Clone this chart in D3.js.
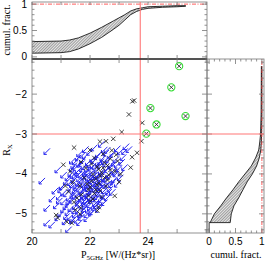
<!DOCTYPE html>
<html>
<head>
<meta charset="utf-8">
<script src="https://cdn.jsdelivr.net/npm/d3@7/dist/d3.min.js"></script>
<style>
  html, body { margin: 0; padding: 0; background: #fff; }
  svg { display: block; }
  .tick-lbl { font-family: "Liberation Sans", Arial, sans-serif; font-size: 10px; fill: #000; }
  .title { font-family: "Liberation Serif", "Times New Roman", serif; font-size: 10px; fill: #000; }
</style>
</head>
<body>
<svg id="chart" width="266" height="263"></svg>
<script>
// upper limits (blue arrows): [P5GHz, R_X]
const limits = [
  [22.50,-3.18],[23.35,-3.24],[23.45,-3.31],
  [21.95,-3.31],[22.25,-3.27],[22.70,-3.33],[23.05,-3.29],[23.30,-3.36],
  [21.75,-3.42],[22.10,-3.38],[22.40,-3.44],[22.65,-3.40],[22.90,-3.43],[23.15,-3.37],
  [21.70,-3.52],[21.95,-3.48],[22.20,-3.55],[22.35,-3.49],[22.55,-3.53],[22.80,-3.47],[23.00,-3.56],[23.25,-3.51],
  [21.60,-3.62],[21.85,-3.58],[22.05,-3.64],[22.25,-3.59],[22.40,-3.66],[22.60,-3.61],[22.75,-3.57],[22.95,-3.65],[23.20,-3.63],
  [21.55,-3.72],[21.75,-3.68],[21.90,-3.74],[22.10,-3.69],[22.30,-3.75],[22.45,-3.71],[22.65,-3.67],[22.85,-3.73],[23.05,-3.70],[23.30,-3.76],
  [21.00,-3.82],[21.50,-3.79],[21.70,-3.84],[21.85,-3.80],[22.00,-3.86],[22.15,-3.78],[22.35,-3.83],[22.50,-3.87],[22.70,-3.81],[22.90,-3.85],[23.10,-3.79],
  [21.45,-3.92],[21.65,-3.88],[21.80,-3.95],[21.95,-3.90],[22.10,-3.93],[22.20,-3.89],[22.40,-3.96],[22.55,-3.91],[22.75,-3.94],[23.00,-3.92],
  [21.35,-4.02],[21.60,-3.98],[21.75,-4.05],[21.90,-4.00],[22.05,-4.03],[22.20,-3.99],[22.30,-4.06],[22.45,-4.01],[22.60,-4.04],[22.80,-3.98],[22.95,-4.07],[23.15,-4.02],
  [20.45,-4.10],[21.30,-4.12],[21.55,-4.08],[21.70,-4.15],[21.85,-4.10],[22.00,-4.13],[22.15,-4.09],[22.25,-4.16],[22.40,-4.11],[22.55,-4.14],[22.70,-4.08],[22.90,-4.12],
  [21.15,-4.24],[21.50,-4.19],[21.65,-4.22],[21.80,-4.18],[21.95,-4.25],[22.10,-4.20],[22.20,-4.23],[22.35,-4.17],[22.50,-4.26],[22.65,-4.21],[22.85,-4.19],
  [21.10,-4.32],[21.45,-4.28],[21.60,-4.35],[21.75,-4.30],[21.90,-4.33],[22.05,-4.29],[22.15,-4.36],[22.30,-4.31],[22.45,-4.27],[22.60,-4.34],[22.80,-4.30],
  [21.30,-4.42],[21.55,-4.38],[21.70,-4.45],[21.85,-4.40],[22.00,-4.43],[22.10,-4.39],[22.25,-4.46],[22.40,-4.41],[22.55,-4.44],[22.75,-4.38],
  [21.05,-4.50],[21.40,-4.53],[21.60,-4.48],[21.80,-4.55],[21.95,-4.51],[22.05,-4.47],[22.20,-4.54],[22.35,-4.49],[22.50,-4.56],[22.70,-4.52],
  [21.20,-4.62],[21.50,-4.58],[21.70,-4.65],[21.90,-4.60],[22.00,-4.63],[22.15,-4.59],[22.30,-4.66],[22.45,-4.61],[22.60,-4.64],
  [20.95,-4.72],[21.35,-4.68],[21.60,-4.74],[21.80,-4.70],[21.95,-4.73],[22.10,-4.69],[22.25,-4.76],[22.45,-4.71],
  [20.62,-4.78],[21.20,-4.82],[21.45,-4.79],[21.70,-4.85],[21.90,-4.80],[22.05,-4.83],[22.20,-4.87],[22.40,-4.81],
  [21.10,-4.92],[21.35,-4.89],[21.60,-4.95],[21.85,-4.91],[22.00,-4.94],[22.15,-4.90],
  [21.00,-5.02],[21.30,-4.99],[21.55,-5.05],[21.80,-5.01],[22.00,-5.04],
  [21.25,-5.12],[21.50,-5.09],[21.75,-5.14],
  [20.62,-5.15],[20.79,-5.20],[21.37,-5.32],
  [20.62,-3.36],[21.14,-4.25],[21.20,-4.40],
  [21.98,-3.96],[22.12,-4.06],[22.28,-3.94],[22.18,-4.30],[21.92,-4.18],[22.38,-4.22],[22.02,-3.80],[22.22,-3.72],[21.88,-4.48],
  [21.62,-3.76],[21.82,-3.66],[22.48,-3.62],[22.62,-3.85],[22.82,-3.70],[21.52,-3.96],[21.72,-3.93],[22.32,-3.99],
  [22.52,-4.12],[22.72,-4.18],[21.42,-4.14],[21.62,-4.26],[21.82,-4.36],[22.02,-4.22],[22.42,-4.32],[21.52,-4.46],
  [21.72,-4.58],[21.92,-4.66],[22.12,-4.52],[22.32,-4.55],[21.38,-4.62],[21.58,-4.84],[21.78,-4.94],[22.12,-4.78],
  [22.32,-4.72],[21.28,-4.74],[21.42,-5.01],[21.66,-5.08],[22.58,-4.48],[22.88,-4.38],[23.05,-4.18],[22.98,-3.88],
  [23.18,-3.90],[22.60,-3.32],[21.85,-3.45],[21.50,-3.60],[21.20,-3.95],[20.90,-4.35],[20.80,-4.55],[21.05,-4.60]
];

// detections (black crosses)
const detections = [
  [23.52,-2.16],[23.80,-2.72],[23.77,-3.18],[23.62,-3.47],[23.34,-2.51],[23.09,-2.95],[23.46,-2.18],
  [22.80,-3.12],[22.55,-3.18],[22.34,-3.19],[21.45,-3.34],
  [22.00,-3.40],[22.75,-3.41],[22.45,-3.50],[22.90,-3.52],[22.15,-3.60],[22.70,-3.62],[23.45,-3.58],
  [21.69,-3.70],[22.50,-3.72],[22.95,-3.68],[21.08,-3.77],[22.25,-3.82],[22.60,-3.79],[23.40,-3.84],
  [21.31,-3.94],[22.30,-3.88],[22.85,-3.93],[22.10,-4.01],[22.40,-3.97],[22.65,-4.03],[23.05,-4.00],
  [21.80,-4.10],[22.20,-4.12],[22.50,-4.09],[21.40,-4.21],[22.05,-4.18],[22.30,-4.23],[23.00,-4.20],
  [21.15,-4.30],[22.00,-4.33],[22.25,-4.28],[22.55,-4.31],[21.25,-4.44],[21.95,-4.40],[22.35,-4.42],
  [21.70,-4.52],[22.15,-4.49],[22.85,-4.55],[21.55,-4.60],[22.10,-4.63],[22.40,-4.58],[21.45,-4.71],[22.00,-4.69],
  [21.68,-4.85],[22.30,-4.83],[21.50,-4.90],[22.25,-4.92],[20.83,-5.03],[21.65,-5.00],[20.88,-5.10],[21.20,-5.20],[21.37,-5.23],
  [22.05,-3.75],[22.35,-4.05],[21.90,-4.25],[22.20,-4.40],[21.85,-3.85],[22.60,-4.15],[21.65,-4.30],[22.45,-3.85],[21.95,-4.55],[22.70,-3.90]
];

// highlighted sources (green circles)
const flagged = [[25.07,-1.30],[24.80,-1.83],[24.08,-2.35],[25.29,-2.55],[24.29,-2.76],[23.94,-2.99]];

// cumulative fraction of P5GHz (top panel)
const cdfPGrid = [20.0, 21.0, 21.3, 21.6, 22.0, 22.4, 22.8, 23.0, 23.2, 23.4, 23.6, 23.8, 24.0, 24.5, 25.0, 25.3];
const cdfPLow  = [0.07, 0.08, 0.10, 0.15, 0.25, 0.37, 0.52, 0.60, 0.70, 0.80, 0.86, 0.90, 0.92, 0.94, 0.95, 0.96];
const cdfPHigh = [0.29, 0.30, 0.32, 0.36, 0.45, 0.56, 0.68, 0.74, 0.80, 0.87, 0.91, 0.93, 0.95, 0.96, 0.97, 0.97];

// cumulative fraction of R_X (right panel)
const cdfRGrid = [-5.22, -5.0, -4.8, -4.6, -4.4, -4.2, -4.0, -3.8, -3.6, -3.4, -3.2, -3.0, -2.5, -1.3];
const cdfRLow  = [0.02, 0.10, 0.22, 0.33, 0.45, 0.56, 0.68, 0.80, 0.88, 0.94, 0.96, 0.975, 0.985, 0.99];
const cdfRHigh = [0.40, 0.42, 0.47, 0.56, 0.64, 0.72, 0.82, 0.90, 0.95, 0.98, 0.99, 0.995, 1.0, 1.0];

const xLabels = [20, 22, 24];
const yLabels = [-5, -4, -3, -2];
const fracLabels = [0, 0.5, 1];
const pCut = 23.73, rCut = -3.0;

var svg = d3.select("#chart");
var frameCol = "#777";

var x = d3.scaleLinear().domain([20, 26.03]).range([32, 207]);
var y = d3.scaleLinear().domain([-5.48, -1.12]).range([233, 59]);
var yTop = d3.scaleLinear().domain([-0.04, 1.04]).range([59, 2]);
var xRight = d3.scaleLinear().domain([-0.04, 1.04]).range([207, 264]);

// hatch pattern (cross hatched band)
var defs = svg.append("defs");
var pat = defs.append("pattern").attr("id", "hatch").attr("patternUnits", "userSpaceOnUse")
    .attr("width", 2).attr("height", 2).attr("patternTransform", "rotate(45)");
pat.append("rect").attr("width", 2).attr("height", 2).attr("fill", "#fff");
pat.append("line").attr("x1", 0).attr("y1", 0).attr("x2", 0).attr("y2", 2)
    .attr("stroke", "#333").attr("stroke-width", 0.9);
pat.append("line").attr("x1", 0).attr("y1", 1).attr("x2", 2).attr("y2", 1)
    .attr("stroke", "#888").attr("stroke-width", 0.4);
defs.append("clipPath").attr("id", "clipMain").append("rect")
    .attr("x", 32).attr("y", 59).attr("width", 175).attr("height", 174);

function ticks(vals, scale, fixed, len, orient, col) {
    vals.forEach(function (v) {
        var p = scale(v);
        var l = svg.append("line").attr("stroke", col || frameCol).attr("stroke-width", 0.8);
        if (orient === "up") l.attr("x1", p).attr("x2", p).attr("y1", fixed).attr("y2", fixed - len);
        if (orient === "down") l.attr("x1", p).attr("x2", p).attr("y1", fixed).attr("y2", fixed + len);
        if (orient === "right") l.attr("y1", p).attr("y2", p).attr("x1", fixed).attr("x2", fixed + len);
        if (orient === "left") l.attr("y1", p).attr("y2", p).attr("x1", fixed).attr("x2", fixed - len);
    });
}
var intX = d3.range(20, 27, 1);
var majY = d3.range(-5, -1.5, 1);
var minY = d3.range(-5.4, -1.1, 0.2).filter(function (v) { return Math.abs(v - Math.round(v)) > 0.05; });
var majF = [0, 0.5, 1];
var minF = d3.range(0, 1.01, 0.1).filter(function (v) { return Math.abs(v * 2 - Math.round(v * 2)) > 0.05; });

// ---- top panel ----
var areaTop = d3.area().x(function (d) { return x(d[0]); })
    .y0(function (d) { return yTop(d[1]); }).y1(function (d) { return yTop(d[2]); });
var topData = cdfPGrid.map(function (v, i) { return [v, cdfPLow[i], cdfPHigh[i]]; });
svg.append("path").datum(topData).attr("d", areaTop).attr("fill", "url(#hatch)");
svg.append("path").datum(topData.map(function (d) { return [x(d[0]), yTop(d[1])]; }))
    .attr("d", d3.line()).attr("fill", "none").attr("stroke", "#000").attr("stroke-width", 0.8);
svg.append("path").datum(topData.map(function (d) { return [x(d[0]), yTop(d[2])]; }))
    .attr("d", d3.line()).attr("fill", "none").attr("stroke", "#000").attr("stroke-width", 0.8);
svg.append("line").attr("x1", x(20)).attr("x2", x(26.03)).attr("y1", yTop(1)).attr("y2", yTop(1))
    .attr("stroke", "#ff3333").attr("stroke-width", 0.8).attr("stroke-dasharray", "4,1.5,1,1.5");

svg.append("rect").attr("x", 32).attr("y", 2).attr("width", 175).attr("height", 57)
    .attr("fill", "none").attr("stroke", frameCol).attr("stroke-width", 0.8);
ticks(majF, yTop, 32, 5, "right"); ticks(minF, yTop, 32, 2.5, "right");
ticks(majF, yTop, 207, 5, "left"); ticks(minF, yTop, 207, 2.5, "left");
ticks(intX, x, 2, 3, "down");

fracLabels.forEach(function (v) {
    svg.append("text").attr("class", "tick-lbl").attr("x", 27).attr("y", yTop(v) + 3.5)
        .attr("text-anchor", "end").text(v);
});
svg.append("text").attr("class", "title").attr("transform", "translate(10,30) rotate(-90)")
    .attr("text-anchor", "middle").text("cumul. fract.");

// ---- right panel ----
var rightData = cdfRGrid.map(function (v, i) { return [v, cdfRLow[i], cdfRHigh[i]]; });
var areaRight = d3.area().y(function (d) { return y(d[0]); })
    .x0(function (d) { return xRight(d[1]); }).x1(function (d) { return xRight(d[2]); });
svg.append("path").datum(rightData).attr("d", areaRight).attr("fill", "url(#hatch)");
svg.append("path").datum(rightData.map(function (d) { return [xRight(d[1]), y(d[0])]; }))
    .attr("d", d3.line()).attr("fill", "none").attr("stroke", "#000").attr("stroke-width", 0.8);
svg.append("path").datum(rightData.map(function (d) { return [xRight(d[2]), y(d[0])]; }))
    .attr("d", d3.line()).attr("fill", "none").attr("stroke", "#000").attr("stroke-width", 0.8);
// start step
svg.append("path").attr("d", d3.line()([[xRight(0), y(-5.48)], [xRight(0), y(cdfRGrid[0])], [xRight(cdfRHigh[0]), y(cdfRGrid[0])]]))
    .attr("fill", "none").attr("stroke", "#000").attr("stroke-width", 0.8);
svg.append("line").attr("x1", xRight(1)).attr("x2", xRight(1)).attr("y1", y(-5.48)).attr("y2", y(-1.12))
    .attr("stroke", "#ff3333").attr("stroke-width", 0.8).attr("stroke-dasharray", "4,1.5,1,1.5");

svg.append("rect").attr("x", 207).attr("y", 59).attr("width", 57).attr("height", 174)
    .attr("fill", "none").attr("stroke", frameCol).attr("stroke-width", 0.8);
ticks(majF, xRight, 233, 5, "up"); ticks(minF, xRight, 233, 2.5, "up");
ticks(majF, xRight, 59, 5, "down"); ticks(minF, xRight, 59, 2.5, "down");
ticks(majY, y, 207, 5, "right"); ticks(minY, y, 207, 2.5, "right");
ticks(majY, y, 264, 5, "left"); ticks(minY, y, 264, 2.5, "left");

fracLabels.forEach(function (v) {
    svg.append("text").attr("class", "tick-lbl").attr("x", xRight(v)).attr("y", 245)
        .attr("text-anchor", "middle").text(v);
});
svg.append("text").attr("class", "title").attr("x", 236).attr("y", 258)
    .attr("text-anchor", "middle").text("cumul. fract.");

// ---- main panel ----
var gm = svg.append("g").attr("clip-path", "url(#clipMain)");
gm.selectAll(".lim").data(limits).enter().append("path").attr("class", "lim")
    .attr("d", function (d) {
        var px = x(d[0]), py = y(d[1]), a = 6, h = 2.8;
        return "M" + px + "," + py + "L" + (px - a) + "," + (py + a) +
            "M" + (px - a) + "," + (py + a - h) + "L" + (px - a) + "," + (py + a) + "L" + (px - a + h) + "," + (py + a);
    })
    .attr("fill", "none").attr("stroke", "#2626f0").attr("stroke-width", 1);
gm.selectAll(".det").data(detections.concat(flagged)).enter().append("path").attr("class", "det")
    .attr("d", function (d) {
        var px = x(d[0]), py = y(d[1]), s = 2.2;
        return "M" + (px - s) + "," + (py - s) + "L" + (px + s) + "," + (py + s) +
            "M" + (px - s) + "," + (py + s) + "L" + (px + s) + "," + (py - s);
    })
    .attr("fill", "none").attr("stroke", "#222").attr("stroke-width", 0.85);
gm.selectAll(".flag").data(flagged).enter().append("circle").attr("class", "flag")
    .attr("cx", function (d) { return x(d[0]); }).attr("cy", function (d) { return y(d[1]); })
    .attr("r", 3.6).attr("fill", "none").attr("stroke", "#33dd33").attr("stroke-width", 1.1);

// cut lines
svg.append("line").attr("x1", x(pCut)).attr("x2", x(pCut)).attr("y1", 2).attr("y2", 233)
    .attr("stroke", "#ff7777").attr("stroke-width", 1.1);
svg.append("line").attr("x1", 32).attr("x2", 264).attr("y1", y(rCut)).attr("y2", y(rCut))
    .attr("stroke", "#ff7777").attr("stroke-width", 1.1);

svg.append("rect").attr("x", 32).attr("y", 59).attr("width", 175).attr("height", 174)
    .attr("fill", "none").attr("stroke", frameCol).attr("stroke-width", 0.8);
svg.append("line").attr("x1", 32).attr("x2", 207).attr("y1", 59).attr("y2", 59)
    .attr("stroke", "#000").attr("stroke-width", 1);
ticks(intX, x, 233, 4, "up"); ticks(intX, x, 59, 4, "down"); ticks(intX, x, 59, 4, "up");
ticks(majY, y, 32, 5, "right"); ticks(minY, y, 32, 2.5, "right");
ticks(majY, y, 207, 5, "left"); ticks(minY, y, 207, 2.5, "left");

xLabels.forEach(function (v) {
    svg.append("text").attr("class", "tick-lbl").attr("x", x(v)).attr("y", 245)
        .attr("text-anchor", "middle").text(v);
});
yLabels.forEach(function (v) {
    svg.append("text").attr("class", "tick-lbl").attr("x", 27).attr("y", y(v) + 3.5)
        .attr("text-anchor", "end").text("\u2212" + Math.abs(v));
});
var yt = svg.append("text").attr("class", "title").attr("transform", "translate(10,150) rotate(-90)")
    .attr("text-anchor", "middle");
yt.append("tspan").text("R");
yt.append("tspan").attr("font-size", "7px").attr("dy", 2).text("X");
var xt = svg.append("text").attr("class", "title").attr("x", 118).attr("y", 258).attr("text-anchor", "middle");
xt.append("tspan").text("P");
xt.append("tspan").attr("font-size", "7px").attr("dy", 2).text("5GHz");
xt.append("tspan").attr("dy", -2).text(" [W/(Hz*sr)]");
</script>
</body>
</html>
